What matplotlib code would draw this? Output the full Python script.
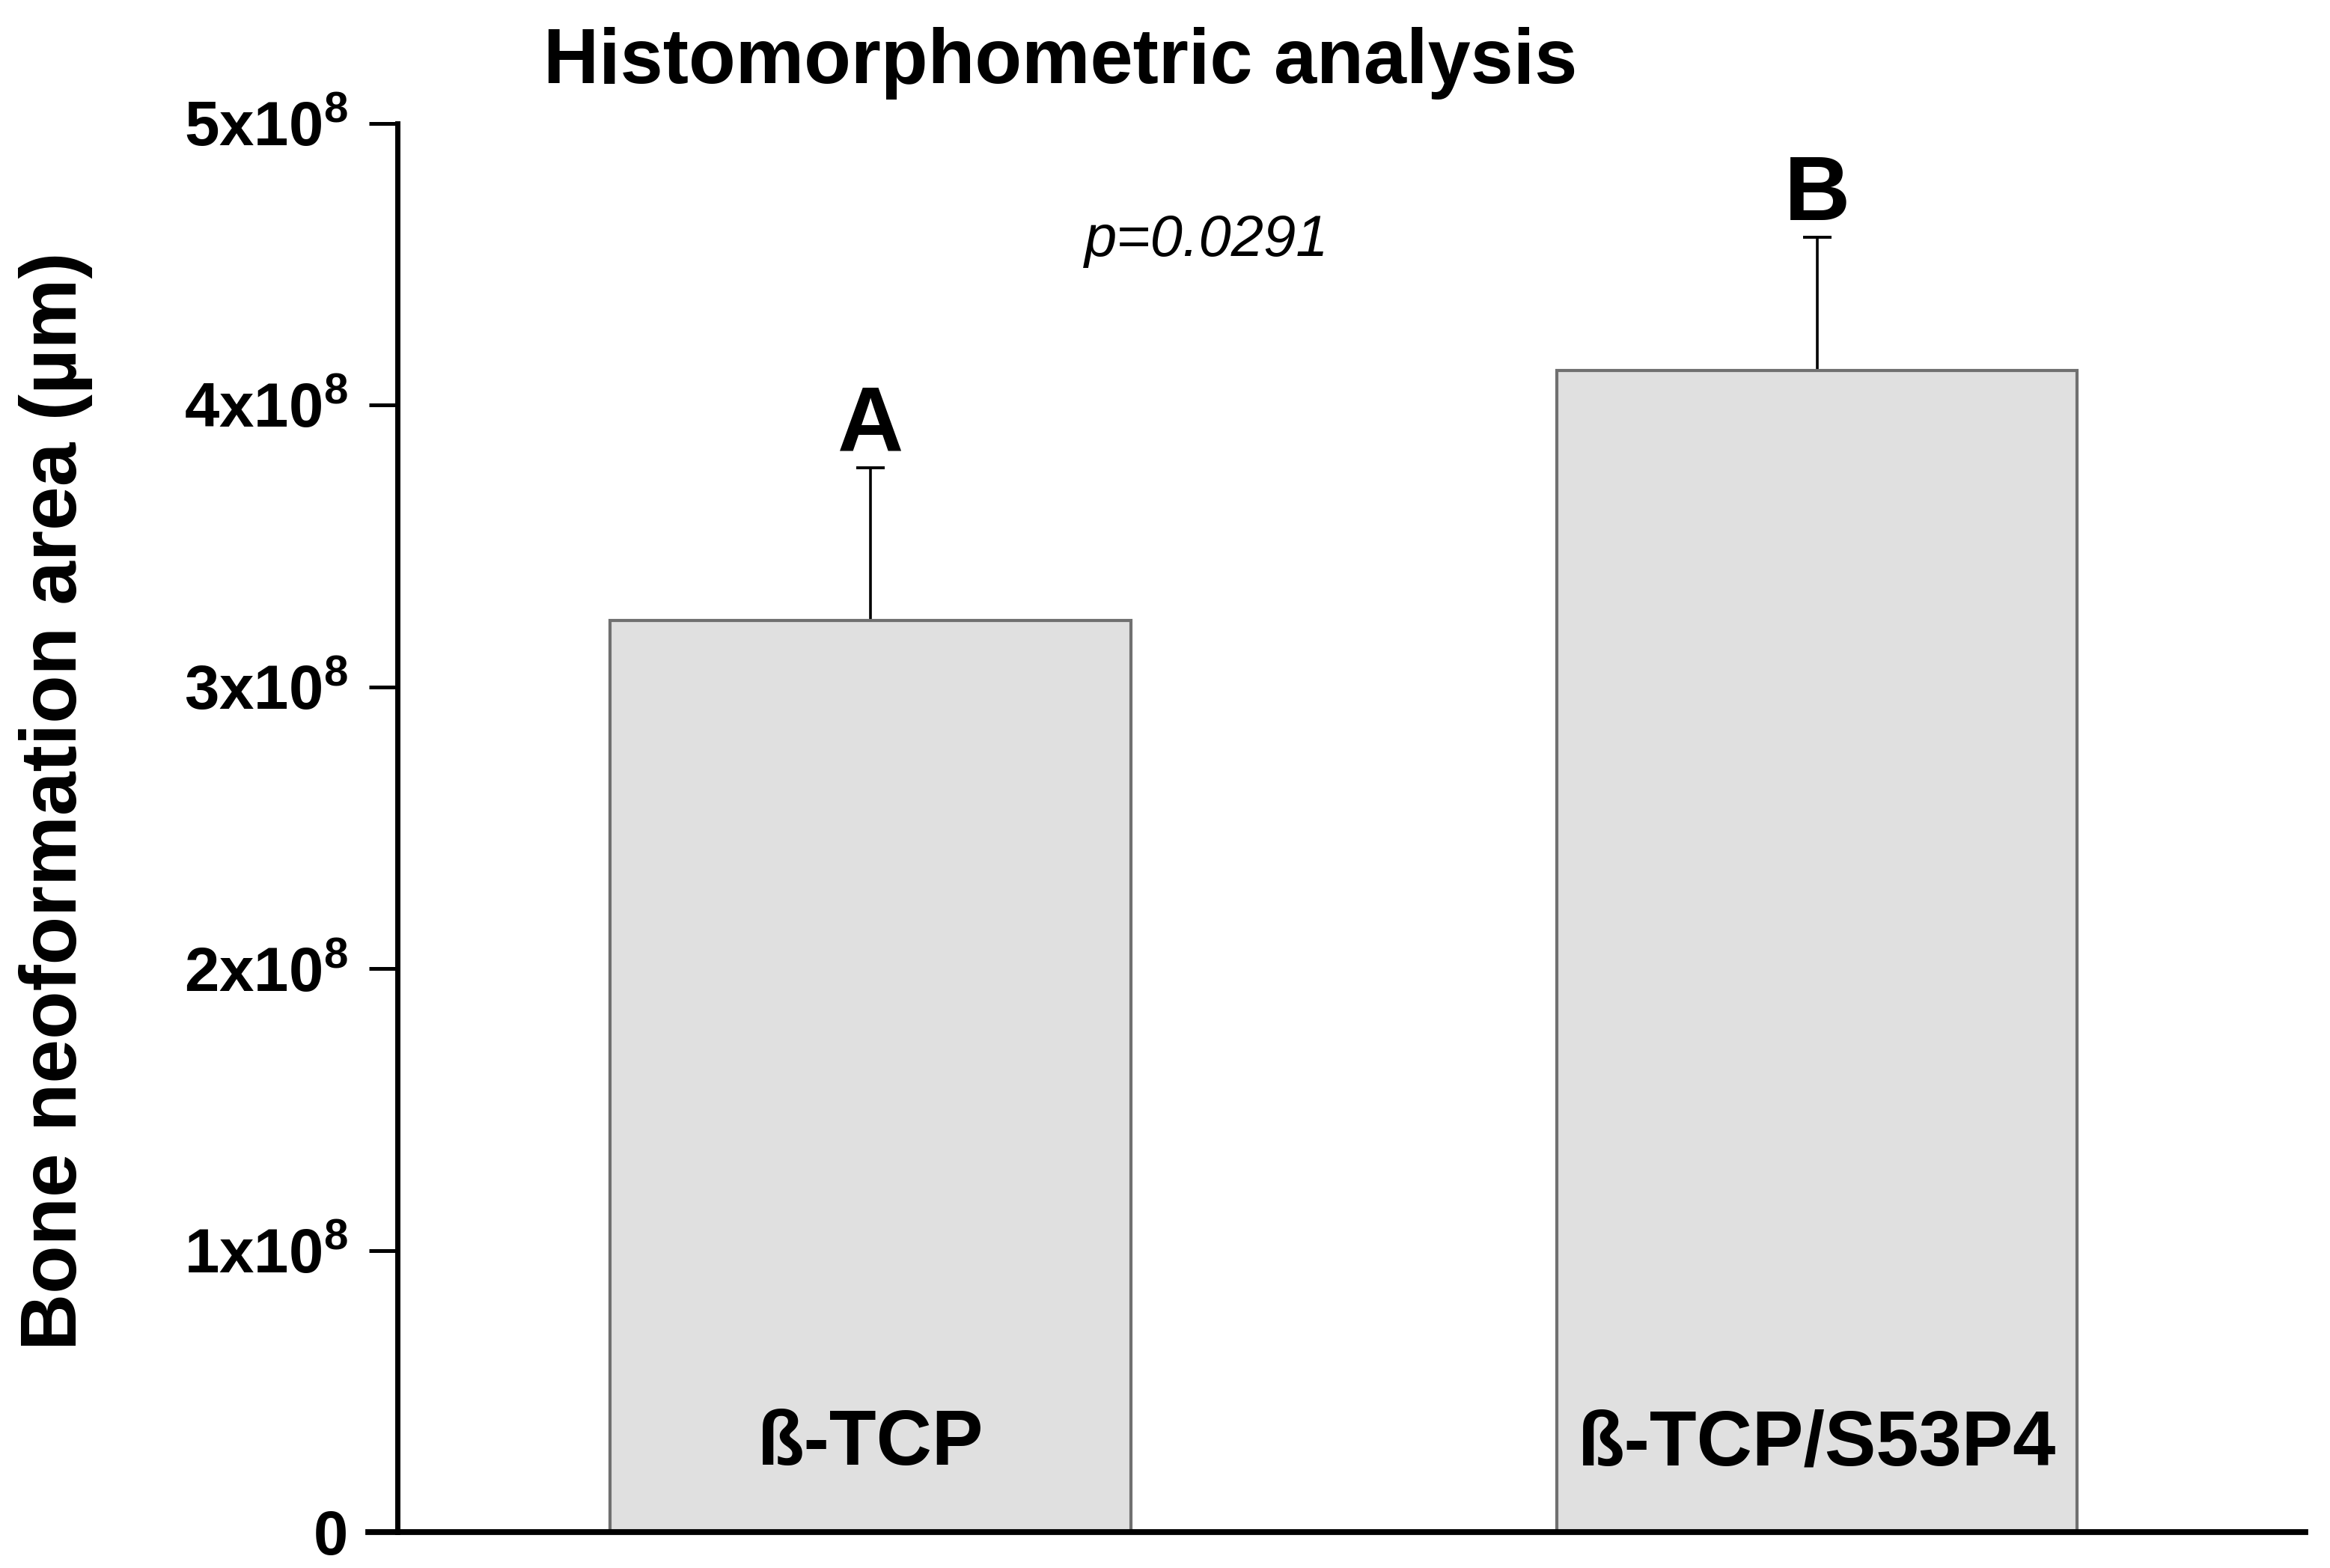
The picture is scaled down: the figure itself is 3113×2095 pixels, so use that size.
import numpy as np
import matplotlib
matplotlib.use("Agg")
import matplotlib.pyplot as plt

# values
groups = ["ß-TCP", "ß-TCP/S53P4"]
means = [3.235e8, 4.122e8]
sd = [0.542e8, 0.474e8]
letters = ["A", "B"]
p_text = "p=0.0291"
yticks = [0, 1e8, 2e8, 3e8, 4e8, 5e8]
ytick_labels = ["0"] + [r"$\mathbf{%dx10^{8}}$" % k for k in range(1, 6)]

plt.rcParams["font.family"] = ["Liberation Sans", "DejaVu Sans"]
plt.rcParams["mathtext.fontset"] = "custom"
plt.rcParams["mathtext.rm"] = "Liberation Sans"
plt.rcParams["mathtext.bf"] = "Liberation Sans:bold"
plt.rcParams["mathtext.it"] = "Liberation Sans:italic"

W, H = 3113, 2095
fig = plt.figure(figsize=(W / 200, H / 200), dpi=200)
ax = fig.add_axes([531 / W, (H - 2047) / H, (3080 - 531) / W, (2047 - 164.5) / H])

x = np.arange(len(groups))
ax.bar(x, means, width=0.55, color="#e0e0e0", edgecolor="#707070",
       linewidth=1.5, zorder=2)
eb = ax.errorbar(x, means, yerr=[np.zeros(len(sd)), sd], fmt="none",
                 ecolor="black", elinewidth=1.3, capsize=7, capthick=1.4,
                 zorder=1)
# hide the lower caps (one-sided error bars)
eb[1][0].set_visible(False)

ax.set_xlim(-0.5, 1.516)
ax.set_ylim(0, 5e8)
ax.set_xticks([])
ax.set_yticks(yticks)
ax.set_yticklabels(ytick_labels, fontweight="bold")
ax.tick_params(axis="y", length=13.7, width=1.8, pad=10, labelsize=30)

for side in ["top", "right", "bottom"]:
    ax.spines[side].set_visible(False)
ax.spines["left"].set_linewidth(2.5)
ax.axhline(0, xmin=-39 / 2549, xmax=1, color="black", lw=2.8,
           clip_on=False, zorder=4)

for xi, m, s, lab in zip(x, means, sd, letters):
    ax.annotate(lab, (xi, m + s), xytext=(0, 8), textcoords="offset points",
                ha="center", va="baseline", fontsize=44, fontweight="bold")

for xi, g in zip(x, groups):
    ax.text(xi, 0.0478, g, transform=ax.get_xaxis_transform(),
            ha="center", va="baseline", fontsize=37, fontweight="bold")

ax.text(0.355, 4.528e8, p_text, ha="center", va="baseline",
        fontsize=28, style="italic")

fig.text(726 / W, 1 - 111 / H, "Histomorphometric analysis",
         ha="left", va="baseline", fontsize=37, fontweight="bold")
fig.text(75 / W, 1 - 1070 / H, "Bone neoformation area (µm)", rotation=90,
         ha="center", va="center", fontsize=38, fontweight="bold")

fig.savefig("out.png", dpi=200)
